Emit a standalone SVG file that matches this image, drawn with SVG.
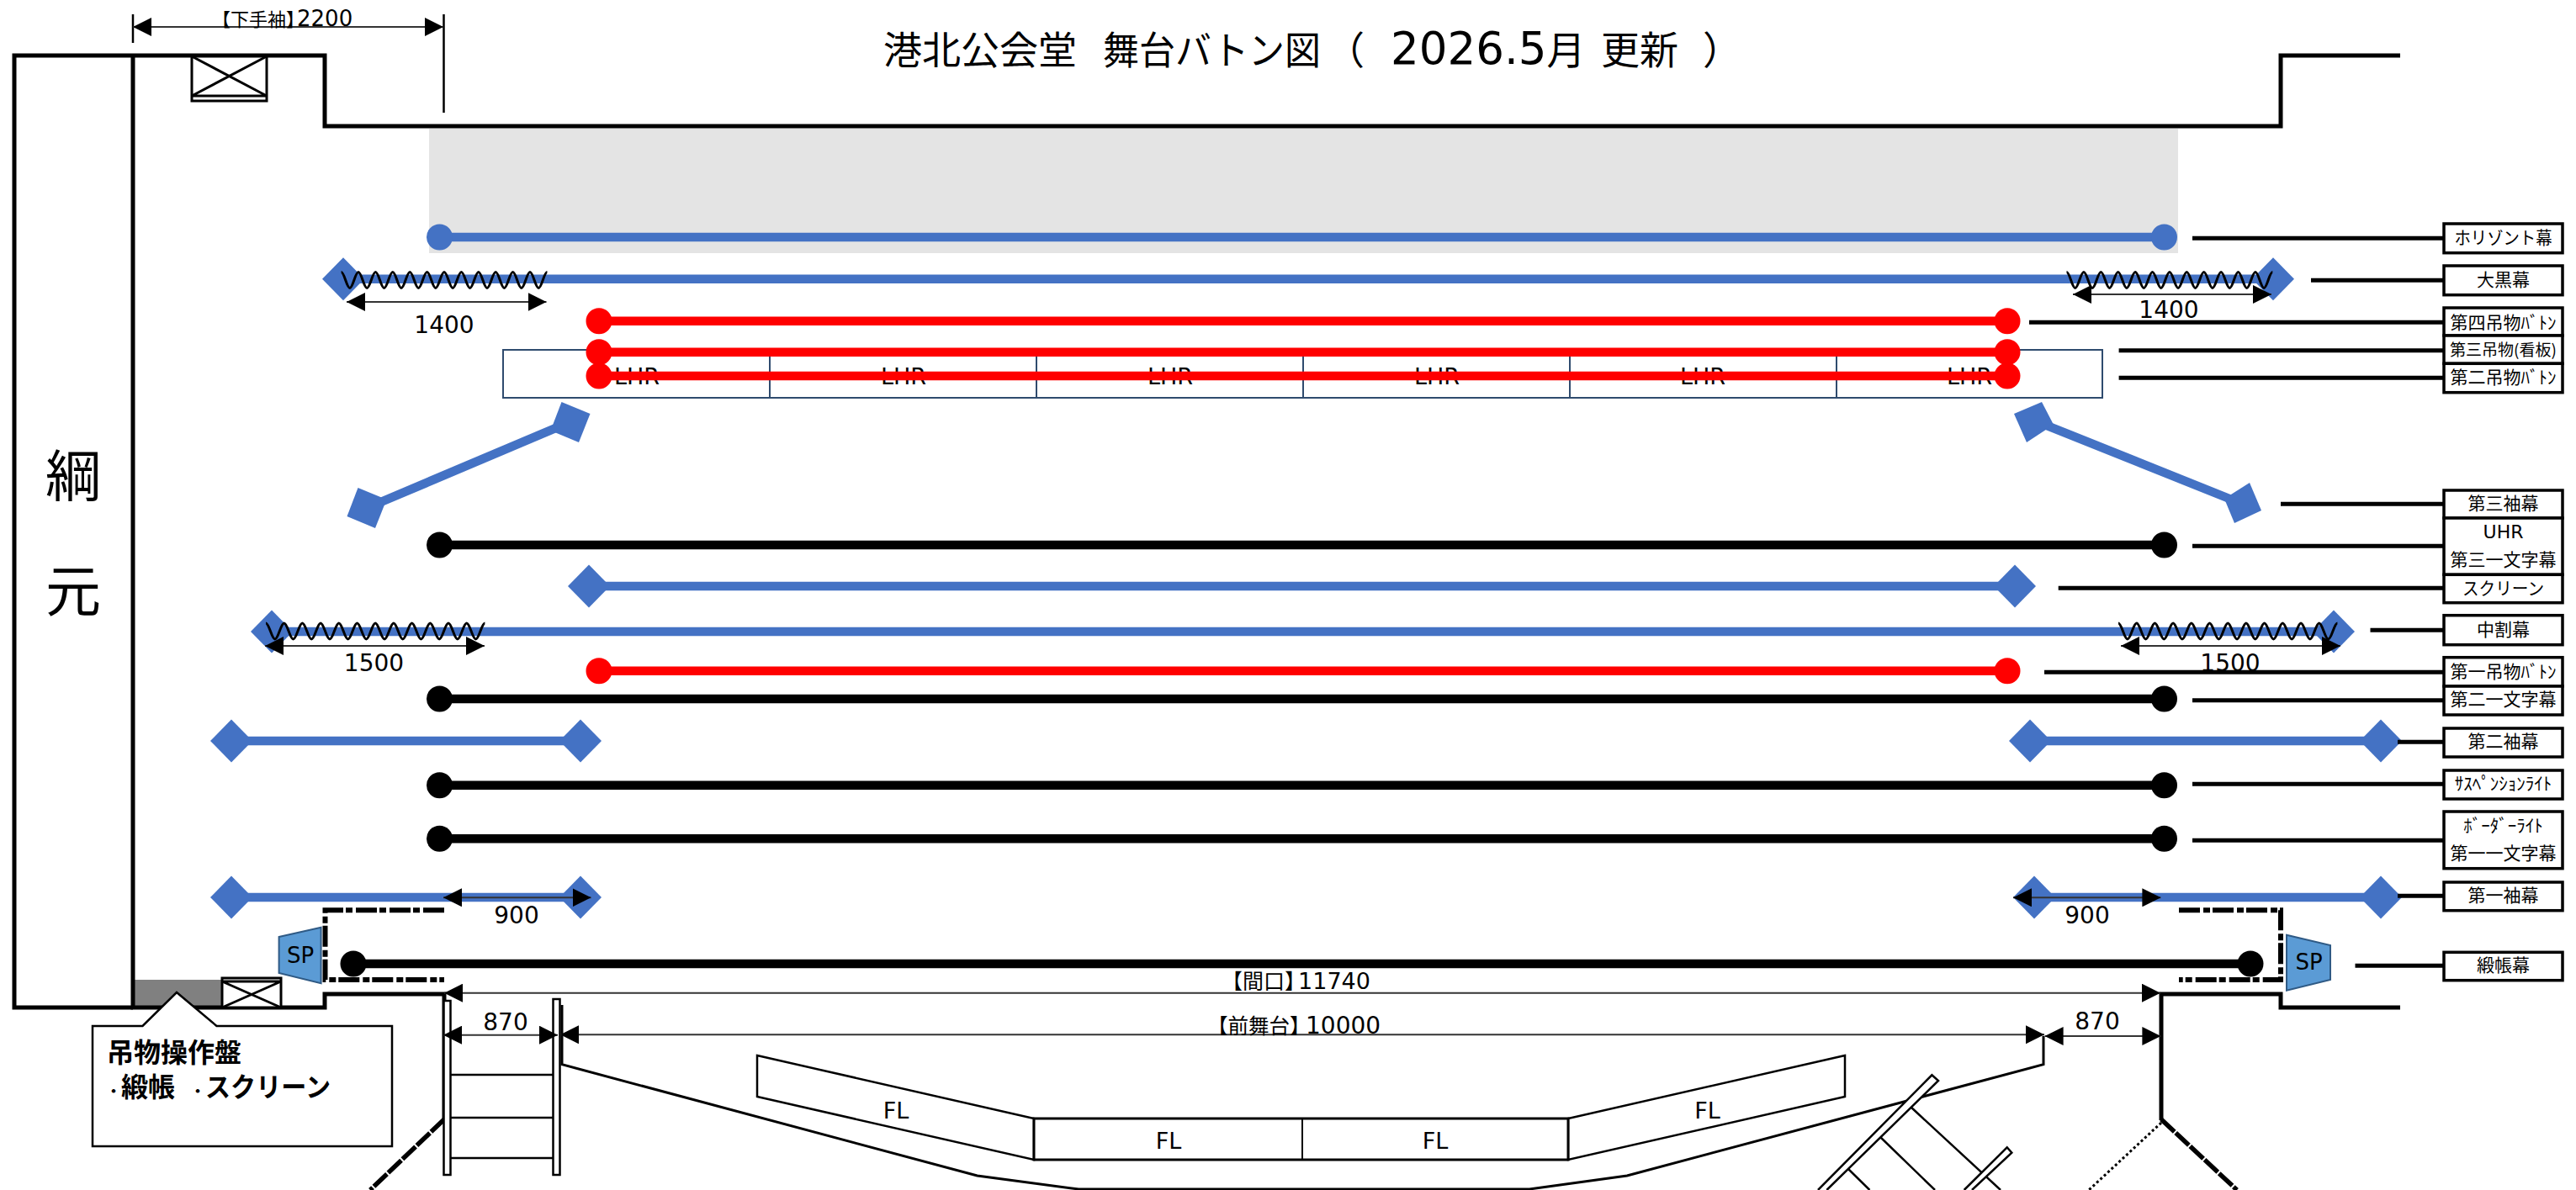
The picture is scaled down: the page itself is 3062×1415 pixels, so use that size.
<svg xmlns="http://www.w3.org/2000/svg" xmlns:xlink="http://www.w3.org/1999/xlink" width="3062" height="1415" viewBox="0 0 3062 1415">
<style>
text{font-family:"DejaVu Sans","Noto Sans CJK JP",sans-serif;fill:#000}
.c{text-anchor:middle}
.j{font-family:"Noto Sans CJK JP","Noto Sans CJK SC",sans-serif}
.dg{font-family:"DejaVu Sans",sans-serif}
.lb{font-size:21px;text-anchor:middle;font-family:"Noto Sans CJK JP",sans-serif}
.box{fill:#fff;stroke:#000;stroke-width:3.5}
.wall{fill:none;stroke:#000;stroke-width:5}
.bat{fill:none;stroke-width:10.5}
.blue{stroke:#4472c4}.red{stroke:#f00}.blk{stroke:#000}
.fb{fill:#4472c4}.fr{fill:#f00}.fk{fill:#000}
.lead{fill:none;stroke:#000;stroke-width:5}
.dim{fill:none;stroke:#333;stroke-width:2;marker-start:url(#ah);marker-end:url(#ah)}
.wave{fill:none;stroke:#000;stroke-width:3}
.thin{fill:#fff;stroke:#000;stroke-width:2.5}
.dash{fill:none;stroke:#000;stroke-width:6;stroke-dasharray:25 4 8 3}
.sp{fill:#5b9bd5;stroke:#2f5a85;stroke-width:2}
.cell{fill:#fff;stroke:#2f4b6e;stroke-width:2}
.d{font-size:28px}
</style>
<defs>
<marker id="ah" markerUnits="userSpaceOnUse" markerWidth="22" markerHeight="22" refX="22" refY="11" orient="auto-start-reverse" viewBox="0 0 22 22"><path d="M0 0L22 11L0 22z" fill="#000"/></marker>
<polygon id="dia" points="0,-25.5 25,0 0,25.5 -25,0"/>
<polygon id="dia2" points="-10.5,-24 23.5,-10 10,24 -23.5,10"/>
<path id="w14" d="M0 0c3.7 0 6.5 19 10.2 19s6.5-19 10.2-19s6.5 19 10.2 19s6.5-19 10.2-19s6.5 19 10.2 19s6.5-19 10.2-19s6.5 19 10.2 19s6.5-19 10.2-19s6.5 19 10.2 19s6.5-19 10.2-19s6.5 19 10.2 19s6.5-19 10.2-19s6.5 19 10.2 19s6.5-19 10.2-19s6.5 19 10.2 19s6.5-19 10.2-19s6.5 19 10.2 19s6.5-19 10.2-19s6.5 19 10.2 19s6.5-19 10.2-19s6.5 19 10.2 19s6.5-19 10.2-19s6.5 19 10.2 19s6.5-19 10.2-19"/>
<path id="w15" d="M0 0c3.9 0 7 19 10.85 19s7-19 10.85-19s7 19 10.85 19s7-19 10.85-19s7 19 10.85 19s7-19 10.85-19s7 19 10.85 19s7-19 10.85-19s7 19 10.85 19s7-19 10.85-19s7 19 10.85 19s7-19 10.85-19s7 19 10.85 19s7-19 10.85-19s7 19 10.85 19s7-19 10.85-19s7 19 10.85 19s7-19 10.85-19s7 19 10.85 19s7-19 10.85-19s7 19 10.85 19s7-19 10.85-19s7 19 10.85 19s7-19 10.85-19"/>
</defs>
<rect width="3062" height="1415" fill="#fff"/>

<g id="back-wall">
<rect x="510" y="153" width="2079" height="148" fill="#e4e4e4"/>
<rect x="158" y="1165" width="105" height="33" fill="#808080"/>
<path class="wall" d="M158 1198H17V66H386V150H2711V66H2853"/>
<path class="wall" d="M158 66V1198H386V1182H528V1332"/>
<path class="wall" d="M2853 1198H2711V1182H2569V1332"/>
<path fill="none" stroke="#000" stroke-width="5.500" stroke-dasharray="21.500 2" d="M528 1331L440 1415"/>
<path fill="none" stroke="#000" stroke-width="5.500" stroke-dasharray="21.500 2" d="M2569 1331L2659 1415"/>
<path fill="none" stroke="#000" stroke-width="3" stroke-dasharray="3 3" d="M2569 1335L2483 1415"/>
</g>

<g id="title">
<text x="1050" y="76" class="j" font-size="46">港北公会堂</text>
<text x="1311" y="76" class="j" font-size="46" textLength="259" lengthAdjust="spacingAndGlyphs">舞台バトン図</text>
<text x="1576" y="76" class="j" font-size="46">（</text>
<text x="1653" y="76" font-size="53">2026.5<tspan class="j" font-size="46">月</tspan></text>
<text y="76" class="j" font-size="46"><tspan x="1903">更新</tspan><tspan x="2024">）</tspan></text></g>

<g id="tsunamoto"><text x="87" y="590" class="c j" font-size="66">綱</text><text x="87" y="727" class="c j" font-size="66">元</text></g>

<g id="hoist-top"><rect x="228" y="67" width="89" height="53" fill="#fff" stroke="#000" stroke-width="3"/><path d="M228 67L317 114M317 67L228 114M228 114H317" fill="none" stroke="#000" stroke-width="3"/></g>
<g id="hoist-bottom"><rect x="264" y="1163" width="70" height="35" fill="#fff" stroke="#000" stroke-width="3"/><path d="M264 1167H334M264 1167L334 1198M334 1167L264 1198" fill="none" stroke="#000" stroke-width="3"/></g>

<g id="operation-panel">
<path class="thin" d="M110 1220H169.500L210 1180L257.500 1220H466V1363H110z"/>
<text y="1263" font-size="32" class="j" font-weight="700" x="127">吊物操作盤</text>
<text y="1304" font-size="32" class="j" font-weight="700"><tspan x="126" font-size="18">・</tspan><tspan x="144">緞帳</tspan> <tspan x="226" font-size="18">・</tspan><tspan x="244" textLength="149" lengthAdjust="spacingAndGlyphs">スクリーン</tspan></text>
</g>

<g id="batten-horizont"><path class="bat blue" d="M522 282H2573"/><circle cx="522.500" cy="282" r="15.500" class="fb"/><circle cx="2572.500" cy="282" r="15.500" class="fb"/></g>
<g id="batten-okuro"><path class="bat blue" d="M408 331.700H2702"/><use xlink:href="#dia" x="408" y="331.700" class="fb"/><use xlink:href="#dia" x="2702" y="331.700" class="fb"/></g>

<g id="lhr">
<rect class="cell" x="598" y="416" width="317" height="57"/><rect class="cell" x="915" y="416" width="317" height="57"/><rect class="cell" x="1232" y="416" width="317" height="57"/><rect class="cell" x="1549" y="416" width="317" height="57"/><rect class="cell" x="1866" y="416" width="317" height="57"/><rect class="cell" x="2183" y="416" width="316" height="57"/>
<g class="c" font-size="27"><text x="757" y="457">LHR</text><text x="1074" y="457">LHR</text><text x="1391" y="457">LHR</text><text x="1708" y="457">LHR</text><text x="2024" y="457">LHR</text><text x="2341" y="457">LHR</text></g>
</g>
<g id="batten-4"><path class="bat red" d="M712 381.700H2386"/><circle cx="712" cy="381.700" r="15.500" class="fr"/><circle cx="2386" cy="381.700" r="15.500" class="fr"/></g>
<g id="batten-3"><path class="bat red" d="M712 418.700H2386"/><circle cx="712" cy="418.700" r="15.500" class="fr"/><circle cx="2386" cy="418.700" r="15.500" class="fr"/></g>
<g id="batten-2"><path class="bat red" d="M712 447H2386"/><circle cx="712" cy="447" r="15.500" class="fr"/><circle cx="2386" cy="447" r="15.500" class="fr"/></g>

<g id="sode-3-left"><path class="bat blue" d="M436 604L677 502"/><use xlink:href="#dia2" x="436" y="604" class="fb"/><use xlink:href="#dia2" x="678" y="502" class="fb"/></g>
<g id="sode-3-right"><path class="bat blue" d="M2418 500L2665 599"/><polygon class="fb" points="2427,478 2394,492 2409,526 2441,505"/><polygon class="fb" points="2674,574 2644,593 2656,622 2688,607"/></g>

<g id="batten-uhr"><path class="bat blk" d="M522 648H2573"/><circle cx="522.500" cy="648" r="15.500" class="fk"/><circle cx="2572.500" cy="648" r="15.500" class="fk"/></g>
<g id="screen"><path class="bat blue" d="M700 697H2395"/><use xlink:href="#dia" x="700" y="697" class="fb"/><use xlink:href="#dia" x="2395" y="697" class="fb"/></g>
<g id="nakawari"><path class="bat blue" d="M323 751H2774"/><use xlink:href="#dia" x="323" y="751" class="fb"/><use xlink:href="#dia" x="2774" y="751" class="fb"/></g>
<g id="batten-1"><path class="bat red" d="M712 797.700H2386"/><circle cx="712" cy="797.700" r="15.500" class="fr"/><circle cx="2386" cy="797.700" r="15.500" class="fr"/></g>
<g id="batten-moji2"><path class="bat blk" d="M522 831H2573"/><circle cx="522.500" cy="831" r="15.500" class="fk"/><circle cx="2572.500" cy="831" r="15.500" class="fk"/></g>
<g id="sode-2"><path class="bat blue" d="M275 881H690M2413 881H2830"/><use xlink:href="#dia" x="275" y="881" class="fb"/><use xlink:href="#dia" x="690" y="881" class="fb"/><use xlink:href="#dia" x="2413" y="881" class="fb"/><use xlink:href="#dia" x="2830" y="881" class="fb"/></g>
<g id="batten-susp"><path class="bat blk" d="M522 933.700H2573"/><circle cx="522.500" cy="933.700" r="15.500" class="fk"/><circle cx="2572.500" cy="933.700" r="15.500" class="fk"/></g>
<g id="batten-border"><path class="bat blk" d="M522 997.300H2573"/><circle cx="522.500" cy="997.300" r="15.500" class="fk"/><circle cx="2572.500" cy="997.300" r="15.500" class="fk"/></g>
<g id="sode-1"><path class="bat blue" d="M275 1067H690M2418 1067H2830"/><use xlink:href="#dia" x="275" y="1067" class="fb"/><use xlink:href="#dia" x="690" y="1067" class="fb"/><use xlink:href="#dia" x="2418" y="1067" class="fb"/><use xlink:href="#dia" x="2830" y="1067" class="fb"/></g>
<g id="donchou"><path class="bat blk" d="M420 1146H2675"/><circle cx="420" cy="1146" r="15.500" class="fk"/><circle cx="2675" cy="1146" r="15.500" class="fk"/></g>

<g id="speakers">
<path class="dash" d="M528 1082.300H386.500V1165H528"/><path class="dash" d="M2590 1082.300H2711V1165H2590"/>
<polygon class="sp" points="331.600,1114 381.600,1102.700 381.600,1169.300 331.600,1157"/><text x="357" y="1145" class="c" font-size="26">SP</text>
<polygon class="sp" points="2718,1111.700 2770,1124 2770,1165 2718,1177.700"/><text x="2744.500" y="1152.500" class="c" font-size="26">SP</text>
</g>

<g id="waves"><use xlink:href="#w14" x="405.600" y="323.500" class="wave"/><use xlink:href="#w14" x="2456.500" y="323.500" class="wave"/><use xlink:href="#w15" x="316" y="741" class="wave"/><use xlink:href="#w15" x="2518" y="741" class="wave"/></g>

<g id="stage-front" fill="none" stroke="#000">
<path stroke-width="3" d="M668 1195V1265.700L1161.600 1398L1282 1414H1818L1934 1398L2429 1265.700V1232"/>
<path fill="#fff" stroke-width="2.500" d="M900 1255L1229 1330V1379L900 1304z"/>
<path fill="#fff" stroke-width="2.500" d="M2193 1255L1864 1330V1379L2193 1304z"/>
<rect fill="#fff" stroke-width="3" x="1229" y="1330" width="635" height="49"/>
<path stroke-width="2" d="M1548 1330V1379"/>
</g>
<g id="fl" class="c" font-size="27"><text x="1065" y="1330">FL</text><text x="1389" y="1366">FL</text><text x="1706" y="1366">FL</text><text x="2029.500" y="1330">FL</text></g>

<g id="ladder-left" fill="#fff" stroke="#000" stroke-width="2.500">
<rect x="527.500" y="1190" width="8" height="207"/><rect x="657.500" y="1188" width="8" height="209"/>
<path d="M535 1278H657M535 1329H657M535 1377H657"/>
</g>
<g id="ladder-right" fill="#fff" stroke="#000" stroke-width="2.500">
<path d="M2271 1316L2378 1415M2235 1352L2300 1415M2197 1390L2222.400 1415" fill="none"/>
<path d="M2161 1415L2296.400 1278.300L2304 1285L2171.400 1415"/>
<path d="M2334.700 1415L2385.700 1364.300L2391.300 1370.700L2344 1415"/>
</g>

<g id="connectors">
<path class="lead" d="M2606 283.300H2905M2747 333.300H2905M2412 383.300H2905M2518.600 416.700H2905M2518.600 449.300H2905M2711 599.300H2905M2606 649.300H2905M2446.700 699.300H2905M2817.500 749.300H2905M2430 799.300H2905M2606 832.700H2905M2850 882.300H2905M2606 932.300H2905M2606 999.300H2905M2850 1065.300H2905M2799.500 1148.300H2905"/>
<path fill="none" stroke="#000" stroke-width="2.500" d="M158 17V51M527.500 17V134"/>
<path class="dim" d="M158 32H527"/>
<path class="dim" d="M412 359H649.500"/><path class="dim" d="M2464 350H2700"/>
<path class="dim" d="M315 768H576"/><path class="dim" d="M2521 768H2782"/>
<path class="dim" d="M527 1067.300H702.500"/><path class="dim" d="M2393 1067.300H2568.400"/>
<path class="dim" d="M528 1180.700H2568"/>
<path class="dim" d="M666 1230.300H2430"/>
<path class="dim" stroke-width="3" d="M527 1230.700H663"/><path class="dim" stroke-width="3" d="M2430.600 1232H2568.400"/>
</g>

<g id="dim-labels">
<text x="252" y="31" class="j" font-size="22">【下手袖<tspan style="letter-spacing:-9px">】</tspan><tspan class="dg" font-size="26">2200</tspan></text>
<text x="1452" y="1176" class="j" font-size="25">【間口<tspan style="letter-spacing:-9px">】</tspan><tspan class="dg" font-size="27">11740</tspan></text>
<text x="1435" y="1229" class="j" font-size="24.500">【前舞台<tspan style="letter-spacing:-5.500px">】</tspan><tspan class="dg" font-size="28">10000</tspan></text>
<g class="c d"><text x="528" y="396">1400</text><text x="2578" y="377.500">1400</text><text x="444.500" y="797.500">1500</text><text x="2651" y="797.500">1500</text><text x="614" y="1098">900</text><text x="2481" y="1098">900</text><text x="601" y="1225">870</text><text x="2493" y="1224">870</text></g>
</g>

<g id="labels">
<g id="lb-horizont"><rect class="box" x="2905" y="266" width="141" height="34.700"/><text class="lb" x="2975.500" y="290" textLength="116" lengthAdjust="spacingAndGlyphs">ホリゾント幕</text></g>
<g id="lb-okuro"><rect class="box" x="2905" y="316" width="141" height="34.700"/><text class="lb" x="2975.500" y="340">大黒幕</text></g>
<g id="lb-4"><rect class="box" x="2905" y="366" width="141" height="33"/><text class="lb" x="2975.500" y="391">第四吊物ﾊﾞﾄﾝ</text></g>
<g id="lb-3"><rect class="box" x="2905" y="399" width="141" height="33.300"/><text class="lb" x="2975.500" y="423" style="font-size:19px">第三吊物(看板)</text></g>
<g id="lb-2"><rect class="box" x="2905" y="432.300" width="141" height="34.400"/><text class="lb" x="2975.500" y="456">第二吊物ﾊﾞﾄﾝ</text></g>
<g id="lb-sode3"><rect class="box" x="2905" y="583" width="141" height="33"/><text class="lb" x="2975.500" y="605.500">第三袖幕</text></g>
<g id="lb-uhr"><rect class="box" x="2905" y="616" width="141" height="67.300"/><text x="2975.500" y="640" class="c" font-size="22">UHR</text><text class="lb" x="2975.500" y="673">第三一文字幕</text></g>
<g id="lb-screen"><rect class="box" x="2905" y="683.300" width="141" height="33.400"/><text class="lb" x="2975.500" y="706.500" textLength="97" lengthAdjust="spacingAndGlyphs">スクリーン</text></g>
<g id="lb-nakawari"><rect class="box" x="2905" y="731.700" width="141" height="35"/><text class="lb" x="2975.500" y="756">中割幕</text></g>
<g id="lb-1"><rect class="box" x="2905" y="781.700" width="141" height="34.300"/><text class="lb" x="2975.500" y="806">第一吊物ﾊﾞﾄﾝ</text></g>
<g id="lb-moji2"><rect class="box" x="2905" y="816" width="141" height="34"/><text class="lb" x="2975.500" y="839">第二一文字幕</text></g>
<g id="lb-sode2"><rect class="box" x="2905" y="866" width="141" height="34"/><text class="lb" x="2975.500" y="889">第二袖幕</text></g>
<g id="lb-susp"><rect class="box" x="2905" y="916" width="141" height="34"/><text class="lb" x="2975.500" y="939">ｻｽﾍﾟﾝｼｮﾝﾗｲﾄ</text></g>
<g id="lb-border"><rect class="box" x="2905" y="965" width="141" height="67.700"/><text class="lb" x="2975.500" y="988.500">ﾎﾞｰﾀﾞｰﾗｲﾄ</text><text class="lb" x="2975.500" y="1022">第一一文字幕</text></g>
<g id="lb-sode1"><rect class="box" x="2905" y="1049" width="141" height="33.700"/><text class="lb" x="2975.500" y="1072">第一袖幕</text></g>
<g id="lb-donchou"><rect class="box" x="2905" y="1132.300" width="141" height="33.400"/><text class="lb" x="2975.500" y="1155">緞帳幕</text></g>
</g>
</svg>
